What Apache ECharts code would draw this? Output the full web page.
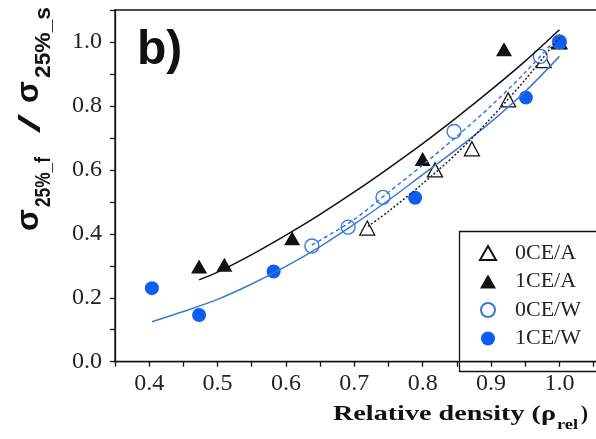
<!DOCTYPE html>
<html><head><meta charset="utf-8">
<script src="https://cdn.jsdelivr.net/npm/echarts@6/dist/echarts.min.js"></script>
<style>html,body{margin:0;padding:0;background:#fff;overflow:hidden}#c{width:600px;height:439px}</style>
</head><body><div id="c"></div>
<script>
// ---- data ----
const seriesNames = ['0CE/A', '1CE/A', '0CE/W', '1CE/W'];
const xTickLabels = ['0.4', '0.5', '0.6', '0.7', '0.8', '0.9', '1.0'];
const yTickLabels = ['0.0', '0.2', '0.4', '0.6', '0.8', '1.0'];

const ce0A_x = [0.719, 0.818, 0.872, 0.925, 0.977, 1.0];
const ce0A_y = [0.418, 0.600, 0.666, 0.819, 0.942, 1.0];
const ce1A_x = [0.473, 0.510, 0.609, 0.800, 0.919, 1.0];
const ce1A_y = [0.298, 0.303, 0.386, 0.634, 0.977, 1.0];
const ce0W_x = [0.638, 0.691, 0.742, 0.846, 0.972, 1.0];
const ce0W_y = [0.362, 0.421, 0.514, 0.720, 0.955, 1.0];
const ce1W_x = [0.404, 0.473, 0.582, 0.789, 0.951, 1.0];
const ce1W_y = [0.230, 0.146, 0.282, 0.513, 0.826, 1.0];

// fitted curves
const fit1A_x = [0.473, 0.50, 0.55, 0.60, 0.65, 0.70, 0.75, 0.80, 0.85, 0.90, 0.95, 1.0];
const fit1A_y = [0.256, 0.280, 0.335, 0.396, 0.461, 0.531, 0.605, 0.682, 0.764, 0.850, 0.940, 1.038];
const fit1W_x = [0.404, 0.45, 0.50, 0.55, 0.60, 0.65, 0.70, 0.75, 0.80, 0.85, 0.90, 0.95, 1.0];
const fit1W_y = [0.125, 0.157, 0.195, 0.243, 0.298, 0.360, 0.430, 0.505, 0.585, 0.665, 0.750, 0.845, 0.955];
const fit0W_x = [0.638, 0.70, 0.75, 0.80, 0.85, 0.90, 0.95, 1.0];
const fit0W_y = [0.365, 0.445, 0.530, 0.615, 0.705, 0.800, 0.905, 1.020];
const fit0A_x = [0.720, 0.75, 0.80, 0.85, 0.90, 0.95, 1.0];
const fit0A_y = [0.423, 0.470, 0.557, 0.652, 0.762, 0.882, 1.015];

const zip = (xs, ys) => xs.map((x, i) => [x, ys[i]]);

const BLUE_DOT = '#0d5df2';
const BLUE_LINE = '#3a7ad6';
const BLACK = '#111';

function textW(str, font) {
  const c = document.createElement('canvas').getContext('2d');
  c.font = font;
  return c.measureText(str).width;
}

const sigFont = 'bold 32px "Liberation Sans"';
const subFont = 'bold 22px "Liberation Sans"';
const slashFont = '30px "Liberation Sans"';
const xtFont = 'bold 21px "Liberation Serif"';
const xsFont = 'bold 14px "Liberation Serif"';

function rotText(text, font, midX, bottomY, len) {
  const w = textW(text, font);
  return {
    type: 'text', x: midX, y: bottomY, rotation: Math.PI / 2,
    scaleX: len ? len / w : 1,
    style: { text: text, font: font, fill: BLACK, align: 'left', verticalAlign: 'middle' },
    z: 10
  };
}
function hText(text, font, left, midY, len) {
  const w = textW(text, font);
  return {
    type: 'text', x: left, y: midY,
    scaleX: len ? len / w : 1,
    style: { text: text, font: font, fill: BLACK, align: 'left', verticalAlign: 'middle' },
    z: 10
  };
}

const chart = echarts.init(document.getElementById('c'), null, { renderer: 'canvas' });
const axisFont = { fontFamily: 'Liberation Serif', fontSize: 24, color: '#222' };

chart.setOption({
  animation: false,
  backgroundColor: '#fff',
  grid: { left: 115, top: 10, right: 0, bottom: 77.3, show: true, borderColor: BLACK, borderWidth: 1.3, backgroundColor: 'transparent' },
  xAxis: {
    type: 'value', min: 0.35, max: 1.055, interval: 0.05,
    axisLine: { show: true, onZero: false, lineStyle: { color: BLACK, width: 1.3 } },
    axisTick: { show: true, inside: false, length: 5, lineStyle: { color: BLACK, width: 1.3 } },
    splitLine: { show: false },
    axisLabel: Object.assign({
      margin: 10,
      formatter: v => { const s = v.toFixed(1); return (Math.round(v * 100) % 10 === 0 && xTickLabels.includes(s)) ? s : ''; }
    }, axisFont)
  },
  yAxis: {
    type: 'value', min: 0, max: 1.1, interval: 0.1,
    axisLine: { show: true, onZero: false, lineStyle: { color: BLACK, width: 1.3 } },
    axisTick: { show: true, inside: false, length: 5, lineStyle: { color: BLACK, width: 1.3 } },
    splitLine: { show: false },
    axisLabel: Object.assign({
      margin: 13,
      formatter: v => { const s = v.toFixed(1); return (Math.round(v * 10) % 2 === 0 && yTickLabels.includes(s)) ? s : ''; }
    }, axisFont)
  },
  legend: {
    data: seriesNames, orient: 'vertical', left: 479, top: 241.5,
    itemWidth: 16, itemHeight: 14, itemGap: 5.5, padding: 0,
    textStyle: { fontFamily: 'Liberation Serif', fontSize: 22, color: '#222', lineHeight: 23, padding: [0, 0, 0, 14] }
  },
  series: [
    { name: seriesNames[0], type: 'scatter', data: zip(ce0A_x, ce0A_y), symbol: 'triangle', symbolSize: [15, 14],
      itemStyle: { color: '#fff', borderColor: BLACK, borderWidth: 1.3, opacity: 1 }, z: 2 },
    { name: seriesNames[1], type: 'scatter', data: zip(ce1A_x, ce1A_y), symbol: 'triangle', symbolSize: [16, 14],
      itemStyle: { color: BLACK, opacity: 1 }, z: 2 },
    { name: seriesNames[2], type: 'scatter', data: zip(ce0W_x, ce0W_y), symbol: 'circle', symbolSize: 14,
      itemStyle: { color: '#fff', borderColor: BLUE_LINE, borderWidth: 1.4, opacity: 1 }, z: 2 },
    { name: seriesNames[3], type: 'scatter', data: zip(ce1W_x, ce1W_y), symbol: 'circle', symbolSize: 14,
      itemStyle: { color: BLUE_DOT, opacity: 1 }, z: 2 },
    { name: 'fit 1CE/A', type: 'line', data: zip(fit1A_x, fit1A_y), smooth: 0.3, symbol: 'none',
      lineStyle: { color: BLACK, width: 1.5 }, z: 3 },
    { name: 'fit 1CE/W', type: 'line', data: zip(fit1W_x, fit1W_y), smooth: 0.3, symbol: 'none',
      lineStyle: { color: BLUE_LINE, width: 1.5 }, z: 3 },
    { name: 'fit 0CE/W', type: 'line', data: zip(fit0W_x, fit0W_y), smooth: 0.3, symbol: 'none',
      lineStyle: { color: BLUE_LINE, width: 1.5, type: [4, 3] }, z: 3 },
    { name: 'fit 0CE/A', type: 'line', data: zip(fit0A_x, fit0A_y), smooth: 0.3, symbol: 'none',
      lineStyle: { color: '#222', width: 1.5, type: [2, 2] }, z: 3 }
  ],
  graphic: [
    { type: 'rect', shape: { x: 459.5, y: 231.5, width: 200, height: 140 },
      style: { fill: 'none', stroke: BLACK, lineWidth: 1.3 }, z: 5 },
    { type: 'text', x: 137, y: 50.4,
      style: { text: 'b)', font: 'bold 48px "Liberation Sans"', fill: BLACK, align: 'left', verticalAlign: 'middle' }, z: 10 },
    // y-axis title, reading bottom to top
    rotText('σ', sigFont, 28.9, 231, 0),
    rotText('25%_f', subFont, 44.4, 207, 50),
    rotText('/', slashFont, 31.5, 133, 19),
    rotText('σ', sigFont, 28.9, 103, 0),
    rotText('25%_s', subFont, 44.4, 78, 71),
    // x-axis title
    hText('Relative density (ρ', xtFont, 333, 414.6, 223),
    hText('rel', xsFont, 557, 425.3, 21),
    hText(')', xtFont, 581, 414.6, 0)
  ]
});
</script>
</body></html>
